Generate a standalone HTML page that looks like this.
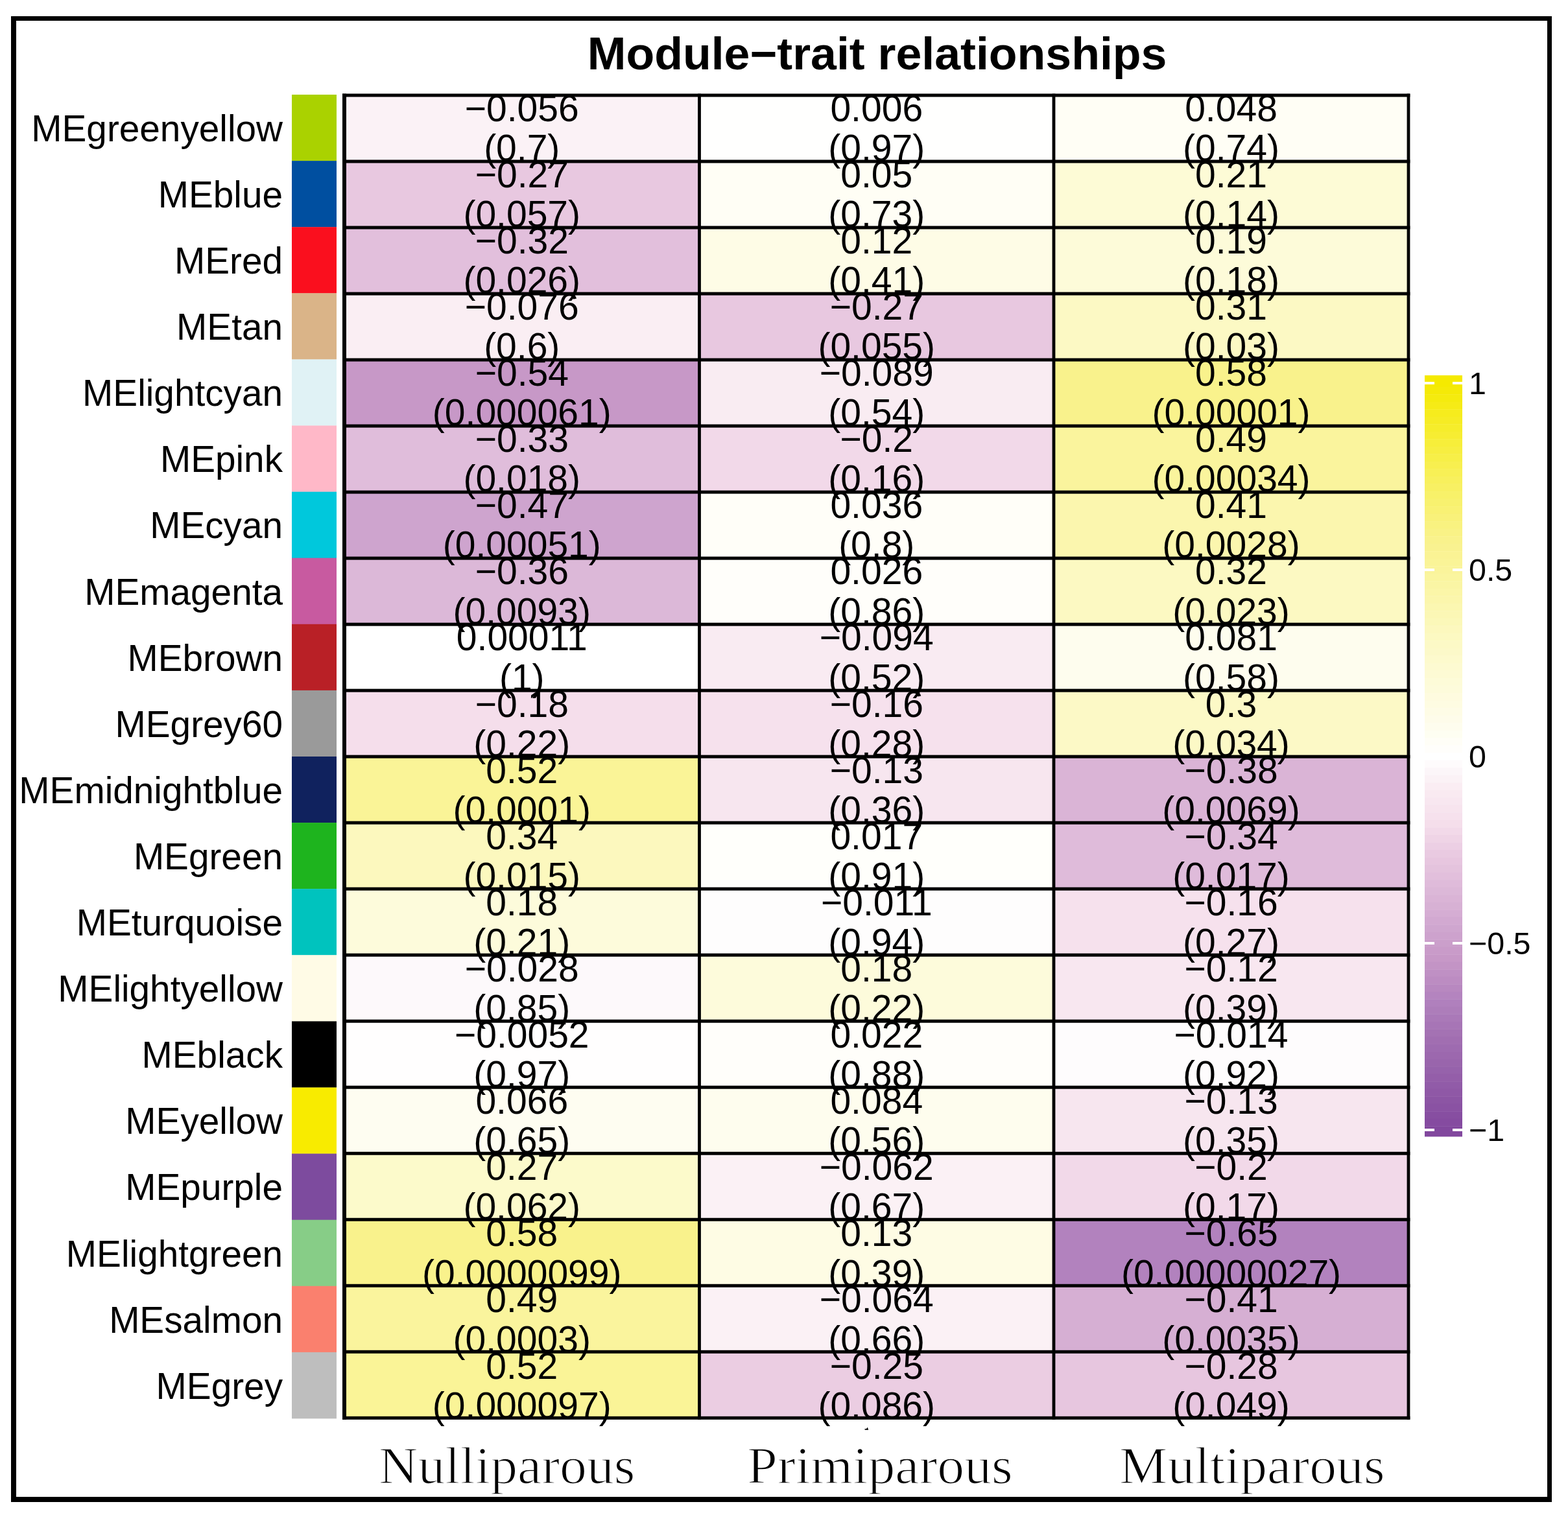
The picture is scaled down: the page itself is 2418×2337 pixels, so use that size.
<!DOCTYPE html><html><head><meta charset="utf-8"><title>Module-trait relationships</title>
<style>html,body{margin:0;padding:0;background:#fff;overflow:hidden;}svg{display:block;}.s{font-family:"Liberation Sans",Arial,Helvetica,sans-serif;}.r{font-family:"Liberation Serif","Times New Roman",serif;}</style></head><body>
<svg width="2418" height="2337" viewBox="0 0 2418 2337">
<rect x="0" y="0" width="2418" height="2337" fill="#fff"/>
<text class="s" font-size="69.5" font-weight="bold" text-anchor="middle" transform="translate(1352.60,107.40) scale(1.031,1)">Module−trait relationships</text>
<rect x="450" y="146.00" width="69" height="102.40" fill="#AAD200"/>
<rect x="531" y="146.00" width="547.5" height="102.40" fill="#FBF2F6"/>
<rect x="1078.5" y="146.00" width="546.5" height="102.40" fill="#FFFFFE"/>
<rect x="1625" y="146.00" width="547" height="102.40" fill="#FFFEF5"/>
<rect x="450" y="248.10" width="69" height="102.40" fill="#004FA0"/>
<rect x="531" y="248.10" width="547.5" height="102.40" fill="#E8C8E0"/>
<rect x="1078.5" y="248.10" width="546.5" height="102.40" fill="#FFFEF5"/>
<rect x="1625" y="248.10" width="547" height="102.40" fill="#FDFBD6"/>
<rect x="450" y="350.20" width="69" height="102.40" fill="#FA0F1E"/>
<rect x="531" y="350.20" width="547.5" height="102.40" fill="#E2BFDC"/>
<rect x="1078.5" y="350.20" width="546.5" height="102.40" fill="#FEFCE6"/>
<rect x="1625" y="350.20" width="547" height="102.40" fill="#FDFBD9"/>
<rect x="450" y="452.30" width="69" height="102.40" fill="#DAB488"/>
<rect x="531" y="452.30" width="547.5" height="102.40" fill="#FAEEF3"/>
<rect x="1078.5" y="452.30" width="546.5" height="102.40" fill="#E8C8E0"/>
<rect x="1625" y="452.30" width="547" height="102.40" fill="#FCF9C4"/>
<rect x="450" y="554.40" width="69" height="102.40" fill="#E0F2F5"/>
<rect x="531" y="554.40" width="547.5" height="102.40" fill="#C798C7"/>
<rect x="1078.5" y="554.40" width="546.5" height="102.40" fill="#F9ECF2"/>
<rect x="1625" y="554.40" width="547" height="102.40" fill="#F9F28C"/>
<rect x="450" y="656.50" width="69" height="102.40" fill="#FFB8C8"/>
<rect x="531" y="656.50" width="547.5" height="102.40" fill="#E0BDDB"/>
<rect x="1078.5" y="656.50" width="546.5" height="102.40" fill="#F2D9E9"/>
<rect x="1625" y="656.50" width="547" height="102.40" fill="#FAF49D"/>
<rect x="450" y="758.60" width="69" height="102.40" fill="#00C8DC"/>
<rect x="531" y="758.60" width="547.5" height="102.40" fill="#CEA4CE"/>
<rect x="1078.5" y="758.60" width="546.5" height="102.40" fill="#FFFEF8"/>
<rect x="1625" y="758.60" width="547" height="102.40" fill="#FBF6AE"/>
<rect x="450" y="860.70" width="69" height="102.40" fill="#C85AA0"/>
<rect x="531" y="860.70" width="547.5" height="102.40" fill="#DCB8D8"/>
<rect x="1078.5" y="860.70" width="546.5" height="102.40" fill="#FFFEFA"/>
<rect x="1625" y="860.70" width="547" height="102.40" fill="#FCF9C2"/>
<rect x="450" y="962.80" width="69" height="102.40" fill="#B92026"/>
<rect x="531" y="962.80" width="547.5" height="102.40" fill="#FFFFFF"/>
<rect x="1078.5" y="962.80" width="546.5" height="102.40" fill="#F9EBF2"/>
<rect x="1625" y="962.80" width="547" height="102.40" fill="#FEFDEE"/>
<rect x="450" y="1064.90" width="69" height="102.40" fill="#9A9A9A"/>
<rect x="531" y="1064.90" width="547.5" height="102.40" fill="#F5DEEB"/>
<rect x="1078.5" y="1064.90" width="546.5" height="102.40" fill="#F6E1ED"/>
<rect x="1625" y="1064.90" width="547" height="102.40" fill="#FCF9C6"/>
<rect x="450" y="1167.00" width="69" height="102.40" fill="#10225E"/>
<rect x="531" y="1167.00" width="547.5" height="102.40" fill="#FAF497"/>
<rect x="1078.5" y="1167.00" width="546.5" height="102.40" fill="#F7E6EF"/>
<rect x="1625" y="1167.00" width="547" height="102.40" fill="#DAB4D6"/>
<rect x="450" y="1269.10" width="69" height="102.40" fill="#1EB41E"/>
<rect x="531" y="1269.10" width="547.5" height="102.40" fill="#FCF8BE"/>
<rect x="1078.5" y="1269.10" width="546.5" height="102.40" fill="#FFFFFB"/>
<rect x="1625" y="1269.10" width="547" height="102.40" fill="#DFBBDA"/>
<rect x="450" y="1371.20" width="69" height="102.40" fill="#00C3BE"/>
<rect x="531" y="1371.20" width="547.5" height="102.40" fill="#FDFBDB"/>
<rect x="1078.5" y="1371.20" width="546.5" height="102.40" fill="#FEFDFD"/>
<rect x="1625" y="1371.20" width="547" height="102.40" fill="#F6E1ED"/>
<rect x="450" y="1473.30" width="69" height="102.40" fill="#FFFBE6"/>
<rect x="531" y="1473.30" width="547.5" height="102.40" fill="#FDF9FB"/>
<rect x="1078.5" y="1473.30" width="546.5" height="102.40" fill="#FDFBDB"/>
<rect x="1625" y="1473.30" width="547" height="102.40" fill="#F8E7F0"/>
<rect x="450" y="1575.40" width="69" height="102.40" fill="#000000"/>
<rect x="531" y="1575.40" width="547.5" height="102.40" fill="#FFFEFE"/>
<rect x="1078.5" y="1575.40" width="546.5" height="102.40" fill="#FFFEFA"/>
<rect x="1625" y="1575.40" width="547" height="102.40" fill="#FEFCFD"/>
<rect x="450" y="1677.50" width="69" height="102.40" fill="#F8EB00"/>
<rect x="531" y="1677.50" width="547.5" height="102.40" fill="#FEFDF1"/>
<rect x="1078.5" y="1677.50" width="546.5" height="102.40" fill="#FEFDEE"/>
<rect x="1625" y="1677.50" width="547" height="102.40" fill="#F7E6EF"/>
<rect x="450" y="1779.60" width="69" height="102.40" fill="#7D4B9E"/>
<rect x="531" y="1779.60" width="547.5" height="102.40" fill="#FCFACB"/>
<rect x="1078.5" y="1779.60" width="546.5" height="102.40" fill="#FBF1F5"/>
<rect x="1625" y="1779.60" width="547" height="102.40" fill="#F2D9E9"/>
<rect x="450" y="1881.70" width="69" height="102.40" fill="#87CD87"/>
<rect x="531" y="1881.70" width="547.5" height="102.40" fill="#F9F28C"/>
<rect x="1078.5" y="1881.70" width="546.5" height="102.40" fill="#FEFCE4"/>
<rect x="1625" y="1881.70" width="547" height="102.40" fill="#B282BE"/>
<rect x="450" y="1983.80" width="69" height="102.40" fill="#FA806E"/>
<rect x="531" y="1983.80" width="547.5" height="102.40" fill="#FAF49D"/>
<rect x="1078.5" y="1983.80" width="546.5" height="102.40" fill="#FBF1F5"/>
<rect x="1625" y="1983.80" width="547" height="102.40" fill="#D6AFD3"/>
<rect x="450" y="2085.90" width="69" height="102.40" fill="#BEBEBE"/>
<rect x="531" y="2085.90" width="547.5" height="102.40" fill="#FAF497"/>
<rect x="1078.5" y="2085.90" width="546.5" height="102.40" fill="#EBCDE2"/>
<rect x="1625" y="2085.90" width="547" height="102.40" fill="#E7C6DF"/>
<rect x="528.0" y="144.50" width="1646.4" height="5.0" fill="#000"/>
<rect x="528.0" y="246.52" width="1646.4" height="5.0" fill="#000"/>
<rect x="528.0" y="348.53" width="1646.4" height="5.0" fill="#000"/>
<rect x="528.0" y="450.55" width="1646.4" height="5.0" fill="#000"/>
<rect x="528.0" y="552.56" width="1646.4" height="5.0" fill="#000"/>
<rect x="528.0" y="654.58" width="1646.4" height="5.0" fill="#000"/>
<rect x="528.0" y="756.59" width="1646.4" height="5.0" fill="#000"/>
<rect x="528.0" y="858.61" width="1646.4" height="5.0" fill="#000"/>
<rect x="528.0" y="960.62" width="1646.4" height="5.0" fill="#000"/>
<rect x="528.0" y="1062.63" width="1646.4" height="5.0" fill="#000"/>
<rect x="528.0" y="1164.65" width="1646.4" height="5.0" fill="#000"/>
<rect x="528.0" y="1266.67" width="1646.4" height="5.0" fill="#000"/>
<rect x="528.0" y="1368.68" width="1646.4" height="5.0" fill="#000"/>
<rect x="528.0" y="1470.70" width="1646.4" height="5.0" fill="#000"/>
<rect x="528.0" y="1572.71" width="1646.4" height="5.0" fill="#000"/>
<rect x="528.0" y="1674.73" width="1646.4" height="5.0" fill="#000"/>
<rect x="528.0" y="1776.74" width="1646.4" height="5.0" fill="#000"/>
<rect x="528.0" y="1878.76" width="1646.4" height="5.0" fill="#000"/>
<rect x="528.0" y="1980.77" width="1646.4" height="5.0" fill="#000"/>
<rect x="528.0" y="2082.79" width="1646.4" height="5.0" fill="#000"/>
<rect x="528.0" y="2184.80" width="1646.4" height="5.0" fill="#000"/>
<rect x="528.0" y="144.6" width="6" height="2045.1000000000001" fill="#000"/>
<rect x="1076.1" y="144.6" width="4.8" height="2045.1000000000001" fill="#000"/>
<rect x="1622.6" y="144.6" width="4.8" height="2045.1000000000001" fill="#000"/>
<rect x="2169.6" y="144.6" width="4.8" height="2045.1000000000001" fill="#000"/>
<text class="s" font-size="58.3" text-anchor="end" transform="translate(436.00,217.85) scale(0.973,1)">MEgreenyellow</text>
<text class="s" font-size="58.3" text-anchor="middle" transform="translate(804.75,186.65) scale(0.978,1)">−0.056</text>
<text class="s" font-size="58.3" text-anchor="middle" transform="translate(804.75,247.85) scale(0.978,1)">(0.7)</text>
<text class="s" font-size="58.3" text-anchor="middle" transform="translate(1351.75,186.65) scale(0.978,1)">0.006</text>
<text class="s" font-size="58.3" text-anchor="middle" transform="translate(1351.75,247.85) scale(0.978,1)">(0.97)</text>
<text class="s" font-size="58.3" text-anchor="middle" transform="translate(1898.50,186.65) scale(0.978,1)">0.048</text>
<text class="s" font-size="58.3" text-anchor="middle" transform="translate(1898.50,247.85) scale(0.978,1)">(0.74)</text>
<text class="s" font-size="58.3" text-anchor="end" transform="translate(436.00,319.95) scale(0.973,1)">MEblue</text>
<text class="s" font-size="58.3" text-anchor="middle" transform="translate(804.75,288.75) scale(0.978,1)">−0.27</text>
<text class="s" font-size="58.3" text-anchor="middle" transform="translate(804.75,349.95) scale(0.978,1)">(0.057)</text>
<text class="s" font-size="58.3" text-anchor="middle" transform="translate(1351.75,288.75) scale(0.978,1)">0.05</text>
<text class="s" font-size="58.3" text-anchor="middle" transform="translate(1351.75,349.95) scale(0.978,1)">(0.73)</text>
<text class="s" font-size="58.3" text-anchor="middle" transform="translate(1898.50,288.75) scale(0.978,1)">0.21</text>
<text class="s" font-size="58.3" text-anchor="middle" transform="translate(1898.50,349.95) scale(0.978,1)">(0.14)</text>
<text class="s" font-size="58.3" text-anchor="end" transform="translate(436.00,422.05) scale(0.973,1)">MEred</text>
<text class="s" font-size="58.3" text-anchor="middle" transform="translate(804.75,390.85) scale(0.978,1)">−0.32</text>
<text class="s" font-size="58.3" text-anchor="middle" transform="translate(804.75,452.05) scale(0.978,1)">(0.026)</text>
<text class="s" font-size="58.3" text-anchor="middle" transform="translate(1351.75,390.85) scale(0.978,1)">0.12</text>
<text class="s" font-size="58.3" text-anchor="middle" transform="translate(1351.75,452.05) scale(0.978,1)">(0.41)</text>
<text class="s" font-size="58.3" text-anchor="middle" transform="translate(1898.50,390.85) scale(0.978,1)">0.19</text>
<text class="s" font-size="58.3" text-anchor="middle" transform="translate(1898.50,452.05) scale(0.978,1)">(0.18)</text>
<text class="s" font-size="58.3" text-anchor="end" transform="translate(436.00,524.15) scale(0.973,1)">MEtan</text>
<text class="s" font-size="58.3" text-anchor="middle" transform="translate(804.75,492.95) scale(0.978,1)">−0.076</text>
<text class="s" font-size="58.3" text-anchor="middle" transform="translate(804.75,554.15) scale(0.978,1)">(0.6)</text>
<text class="s" font-size="58.3" text-anchor="middle" transform="translate(1351.75,492.95) scale(0.978,1)">−0.27</text>
<text class="s" font-size="58.3" text-anchor="middle" transform="translate(1351.75,554.15) scale(0.978,1)">(0.055)</text>
<text class="s" font-size="58.3" text-anchor="middle" transform="translate(1898.50,492.95) scale(0.978,1)">0.31</text>
<text class="s" font-size="58.3" text-anchor="middle" transform="translate(1898.50,554.15) scale(0.978,1)">(0.03)</text>
<text class="s" font-size="58.3" text-anchor="end" transform="translate(436.00,626.25) scale(0.973,1)">MElightcyan</text>
<text class="s" font-size="58.3" text-anchor="middle" transform="translate(804.75,595.05) scale(0.978,1)">−0.54</text>
<text class="s" font-size="58.3" text-anchor="middle" transform="translate(804.75,656.25) scale(0.978,1)">(0.000061)</text>
<text class="s" font-size="58.3" text-anchor="middle" transform="translate(1351.75,595.05) scale(0.978,1)">−0.089</text>
<text class="s" font-size="58.3" text-anchor="middle" transform="translate(1351.75,656.25) scale(0.978,1)">(0.54)</text>
<text class="s" font-size="58.3" text-anchor="middle" transform="translate(1898.50,595.05) scale(0.978,1)">0.58</text>
<text class="s" font-size="58.3" text-anchor="middle" transform="translate(1898.50,656.25) scale(0.978,1)">(0.00001)</text>
<text class="s" font-size="58.3" text-anchor="end" transform="translate(436.00,728.35) scale(0.973,1)">MEpink</text>
<text class="s" font-size="58.3" text-anchor="middle" transform="translate(804.75,697.15) scale(0.978,1)">−0.33</text>
<text class="s" font-size="58.3" text-anchor="middle" transform="translate(804.75,758.35) scale(0.978,1)">(0.018)</text>
<text class="s" font-size="58.3" text-anchor="middle" transform="translate(1351.75,697.15) scale(0.978,1)">−0.2</text>
<text class="s" font-size="58.3" text-anchor="middle" transform="translate(1351.75,758.35) scale(0.978,1)">(0.16)</text>
<text class="s" font-size="58.3" text-anchor="middle" transform="translate(1898.50,697.15) scale(0.978,1)">0.49</text>
<text class="s" font-size="58.3" text-anchor="middle" transform="translate(1898.50,758.35) scale(0.978,1)">(0.00034)</text>
<text class="s" font-size="58.3" text-anchor="end" transform="translate(436.00,830.45) scale(0.973,1)">MEcyan</text>
<text class="s" font-size="58.3" text-anchor="middle" transform="translate(804.75,799.25) scale(0.978,1)">−0.47</text>
<text class="s" font-size="58.3" text-anchor="middle" transform="translate(804.75,860.45) scale(0.978,1)">(0.00051)</text>
<text class="s" font-size="58.3" text-anchor="middle" transform="translate(1351.75,799.25) scale(0.978,1)">0.036</text>
<text class="s" font-size="58.3" text-anchor="middle" transform="translate(1351.75,860.45) scale(0.978,1)">(0.8)</text>
<text class="s" font-size="58.3" text-anchor="middle" transform="translate(1898.50,799.25) scale(0.978,1)">0.41</text>
<text class="s" font-size="58.3" text-anchor="middle" transform="translate(1898.50,860.45) scale(0.978,1)">(0.0028)</text>
<text class="s" font-size="58.3" text-anchor="end" transform="translate(436.00,932.55) scale(0.973,1)">MEmagenta</text>
<text class="s" font-size="58.3" text-anchor="middle" transform="translate(804.75,901.35) scale(0.978,1)">−0.36</text>
<text class="s" font-size="58.3" text-anchor="middle" transform="translate(804.75,962.55) scale(0.978,1)">(0.0093)</text>
<text class="s" font-size="58.3" text-anchor="middle" transform="translate(1351.75,901.35) scale(0.978,1)">0.026</text>
<text class="s" font-size="58.3" text-anchor="middle" transform="translate(1351.75,962.55) scale(0.978,1)">(0.86)</text>
<text class="s" font-size="58.3" text-anchor="middle" transform="translate(1898.50,901.35) scale(0.978,1)">0.32</text>
<text class="s" font-size="58.3" text-anchor="middle" transform="translate(1898.50,962.55) scale(0.978,1)">(0.023)</text>
<text class="s" font-size="58.3" text-anchor="end" transform="translate(436.00,1034.65) scale(0.973,1)">MEbrown</text>
<text class="s" font-size="58.3" text-anchor="middle" transform="translate(804.75,1003.45) scale(0.978,1)">0.00011</text>
<text class="s" font-size="58.3" text-anchor="middle" transform="translate(804.75,1064.65) scale(0.978,1)">(1)</text>
<text class="s" font-size="58.3" text-anchor="middle" transform="translate(1351.75,1003.45) scale(0.978,1)">−0.094</text>
<text class="s" font-size="58.3" text-anchor="middle" transform="translate(1351.75,1064.65) scale(0.978,1)">(0.52)</text>
<text class="s" font-size="58.3" text-anchor="middle" transform="translate(1898.50,1003.45) scale(0.978,1)">0.081</text>
<text class="s" font-size="58.3" text-anchor="middle" transform="translate(1898.50,1064.65) scale(0.978,1)">(0.58)</text>
<text class="s" font-size="58.3" text-anchor="end" transform="translate(436.00,1136.75) scale(0.973,1)">MEgrey60</text>
<text class="s" font-size="58.3" text-anchor="middle" transform="translate(804.75,1105.55) scale(0.978,1)">−0.18</text>
<text class="s" font-size="58.3" text-anchor="middle" transform="translate(804.75,1166.75) scale(0.978,1)">(0.22)</text>
<text class="s" font-size="58.3" text-anchor="middle" transform="translate(1351.75,1105.55) scale(0.978,1)">−0.16</text>
<text class="s" font-size="58.3" text-anchor="middle" transform="translate(1351.75,1166.75) scale(0.978,1)">(0.28)</text>
<text class="s" font-size="58.3" text-anchor="middle" transform="translate(1898.50,1105.55) scale(0.978,1)">0.3</text>
<text class="s" font-size="58.3" text-anchor="middle" transform="translate(1898.50,1166.75) scale(0.978,1)">(0.034)</text>
<text class="s" font-size="58.3" text-anchor="end" transform="translate(436.00,1238.85) scale(0.973,1)">MEmidnightblue</text>
<text class="s" font-size="58.3" text-anchor="middle" transform="translate(804.75,1207.65) scale(0.978,1)">0.52</text>
<text class="s" font-size="58.3" text-anchor="middle" transform="translate(804.75,1268.85) scale(0.978,1)">(0.0001)</text>
<text class="s" font-size="58.3" text-anchor="middle" transform="translate(1351.75,1207.65) scale(0.978,1)">−0.13</text>
<text class="s" font-size="58.3" text-anchor="middle" transform="translate(1351.75,1268.85) scale(0.978,1)">(0.36)</text>
<text class="s" font-size="58.3" text-anchor="middle" transform="translate(1898.50,1207.65) scale(0.978,1)">−0.38</text>
<text class="s" font-size="58.3" text-anchor="middle" transform="translate(1898.50,1268.85) scale(0.978,1)">(0.0069)</text>
<text class="s" font-size="58.3" text-anchor="end" transform="translate(436.00,1340.95) scale(0.973,1)">MEgreen</text>
<text class="s" font-size="58.3" text-anchor="middle" transform="translate(804.75,1309.75) scale(0.978,1)">0.34</text>
<text class="s" font-size="58.3" text-anchor="middle" transform="translate(804.75,1370.95) scale(0.978,1)">(0.015)</text>
<text class="s" font-size="58.3" text-anchor="middle" transform="translate(1351.75,1309.75) scale(0.978,1)">0.017</text>
<text class="s" font-size="58.3" text-anchor="middle" transform="translate(1351.75,1370.95) scale(0.978,1)">(0.91)</text>
<text class="s" font-size="58.3" text-anchor="middle" transform="translate(1898.50,1309.75) scale(0.978,1)">−0.34</text>
<text class="s" font-size="58.3" text-anchor="middle" transform="translate(1898.50,1370.95) scale(0.978,1)">(0.017)</text>
<text class="s" font-size="58.3" text-anchor="end" transform="translate(436.00,1443.05) scale(0.973,1)">MEturquoise</text>
<text class="s" font-size="58.3" text-anchor="middle" transform="translate(804.75,1411.85) scale(0.978,1)">0.18</text>
<text class="s" font-size="58.3" text-anchor="middle" transform="translate(804.75,1473.05) scale(0.978,1)">(0.21)</text>
<text class="s" font-size="58.3" text-anchor="middle" transform="translate(1351.75,1411.85) scale(0.978,1)">−0.011</text>
<text class="s" font-size="58.3" text-anchor="middle" transform="translate(1351.75,1473.05) scale(0.978,1)">(0.94)</text>
<text class="s" font-size="58.3" text-anchor="middle" transform="translate(1898.50,1411.85) scale(0.978,1)">−0.16</text>
<text class="s" font-size="58.3" text-anchor="middle" transform="translate(1898.50,1473.05) scale(0.978,1)">(0.27)</text>
<text class="s" font-size="58.3" text-anchor="end" transform="translate(436.00,1545.15) scale(0.973,1)">MElightyellow</text>
<text class="s" font-size="58.3" text-anchor="middle" transform="translate(804.75,1513.95) scale(0.978,1)">−0.028</text>
<text class="s" font-size="58.3" text-anchor="middle" transform="translate(804.75,1575.15) scale(0.978,1)">(0.85)</text>
<text class="s" font-size="58.3" text-anchor="middle" transform="translate(1351.75,1513.95) scale(0.978,1)">0.18</text>
<text class="s" font-size="58.3" text-anchor="middle" transform="translate(1351.75,1575.15) scale(0.978,1)">(0.22)</text>
<text class="s" font-size="58.3" text-anchor="middle" transform="translate(1898.50,1513.95) scale(0.978,1)">−0.12</text>
<text class="s" font-size="58.3" text-anchor="middle" transform="translate(1898.50,1575.15) scale(0.978,1)">(0.39)</text>
<text class="s" font-size="58.3" text-anchor="end" transform="translate(436.00,1647.25) scale(0.973,1)">MEblack</text>
<text class="s" font-size="58.3" text-anchor="middle" transform="translate(804.75,1616.05) scale(0.978,1)">−0.0052</text>
<text class="s" font-size="58.3" text-anchor="middle" transform="translate(804.75,1677.25) scale(0.978,1)">(0.97)</text>
<text class="s" font-size="58.3" text-anchor="middle" transform="translate(1351.75,1616.05) scale(0.978,1)">0.022</text>
<text class="s" font-size="58.3" text-anchor="middle" transform="translate(1351.75,1677.25) scale(0.978,1)">(0.88)</text>
<text class="s" font-size="58.3" text-anchor="middle" transform="translate(1898.50,1616.05) scale(0.978,1)">−0.014</text>
<text class="s" font-size="58.3" text-anchor="middle" transform="translate(1898.50,1677.25) scale(0.978,1)">(0.92)</text>
<text class="s" font-size="58.3" text-anchor="end" transform="translate(436.00,1749.35) scale(0.973,1)">MEyellow</text>
<text class="s" font-size="58.3" text-anchor="middle" transform="translate(804.75,1718.15) scale(0.978,1)">0.066</text>
<text class="s" font-size="58.3" text-anchor="middle" transform="translate(804.75,1779.35) scale(0.978,1)">(0.65)</text>
<text class="s" font-size="58.3" text-anchor="middle" transform="translate(1351.75,1718.15) scale(0.978,1)">0.084</text>
<text class="s" font-size="58.3" text-anchor="middle" transform="translate(1351.75,1779.35) scale(0.978,1)">(0.56)</text>
<text class="s" font-size="58.3" text-anchor="middle" transform="translate(1898.50,1718.15) scale(0.978,1)">−0.13</text>
<text class="s" font-size="58.3" text-anchor="middle" transform="translate(1898.50,1779.35) scale(0.978,1)">(0.35)</text>
<text class="s" font-size="58.3" text-anchor="end" transform="translate(436.00,1851.45) scale(0.973,1)">MEpurple</text>
<text class="s" font-size="58.3" text-anchor="middle" transform="translate(804.75,1820.25) scale(0.978,1)">0.27</text>
<text class="s" font-size="58.3" text-anchor="middle" transform="translate(804.75,1881.45) scale(0.978,1)">(0.062)</text>
<text class="s" font-size="58.3" text-anchor="middle" transform="translate(1351.75,1820.25) scale(0.978,1)">−0.062</text>
<text class="s" font-size="58.3" text-anchor="middle" transform="translate(1351.75,1881.45) scale(0.978,1)">(0.67)</text>
<text class="s" font-size="58.3" text-anchor="middle" transform="translate(1898.50,1820.25) scale(0.978,1)">−0.2</text>
<text class="s" font-size="58.3" text-anchor="middle" transform="translate(1898.50,1881.45) scale(0.978,1)">(0.17)</text>
<text class="s" font-size="58.3" text-anchor="end" transform="translate(436.00,1953.55) scale(0.973,1)">MElightgreen</text>
<text class="s" font-size="58.3" text-anchor="middle" transform="translate(804.75,1922.35) scale(0.978,1)">0.58</text>
<text class="s" font-size="58.3" text-anchor="middle" transform="translate(804.75,1983.55) scale(0.978,1)">(0.0000099)</text>
<text class="s" font-size="58.3" text-anchor="middle" transform="translate(1351.75,1922.35) scale(0.978,1)">0.13</text>
<text class="s" font-size="58.3" text-anchor="middle" transform="translate(1351.75,1983.55) scale(0.978,1)">(0.39)</text>
<text class="s" font-size="58.3" text-anchor="middle" transform="translate(1898.50,1922.35) scale(0.978,1)">−0.65</text>
<text class="s" font-size="58.3" text-anchor="middle" transform="translate(1898.50,1983.55) scale(0.978,1)">(0.00000027)</text>
<text class="s" font-size="58.3" text-anchor="end" transform="translate(436.00,2055.65) scale(0.973,1)">MEsalmon</text>
<text class="s" font-size="58.3" text-anchor="middle" transform="translate(804.75,2024.45) scale(0.978,1)">0.49</text>
<text class="s" font-size="58.3" text-anchor="middle" transform="translate(804.75,2085.65) scale(0.978,1)">(0.0003)</text>
<text class="s" font-size="58.3" text-anchor="middle" transform="translate(1351.75,2024.45) scale(0.978,1)">−0.064</text>
<text class="s" font-size="58.3" text-anchor="middle" transform="translate(1351.75,2085.65) scale(0.978,1)">(0.66)</text>
<text class="s" font-size="58.3" text-anchor="middle" transform="translate(1898.50,2024.45) scale(0.978,1)">−0.41</text>
<text class="s" font-size="58.3" text-anchor="middle" transform="translate(1898.50,2085.65) scale(0.978,1)">(0.0035)</text>
<text class="s" font-size="58.3" text-anchor="end" transform="translate(436.00,2157.75) scale(0.973,1)">MEgrey</text>
<text class="s" font-size="58.3" text-anchor="middle" transform="translate(804.75,2126.55) scale(0.978,1)">0.52</text>
<text class="s" font-size="58.3" text-anchor="middle" transform="translate(804.75,2187.75) scale(0.978,1)">(0.000097)</text>
<text class="s" font-size="58.3" text-anchor="middle" transform="translate(1351.75,2126.55) scale(0.978,1)">−0.25</text>
<text class="s" font-size="58.3" text-anchor="middle" transform="translate(1351.75,2187.75) scale(0.978,1)">(0.086)</text>
<text class="s" font-size="58.3" text-anchor="middle" transform="translate(1898.50,2126.55) scale(0.978,1)">−0.28</text>
<text class="s" font-size="58.3" text-anchor="middle" transform="translate(1898.50,2187.75) scale(0.978,1)">(0.049)</text>
<text class="r" font-size="80" text-anchor="middle" stroke="#fff" stroke-width="1.6" transform="translate(781.70,2288.00) scale(1.047,1)">Nulliparous</text>
<text class="r" font-size="80" text-anchor="middle" stroke="#fff" stroke-width="1.6" transform="translate(1357.00,2288.00) scale(1.047,1)">Primiparous</text>
<text class="r" font-size="80" text-anchor="middle" stroke="#fff" stroke-width="1.6" transform="translate(1930.80,2288.00) scale(1.047,1)">Multiparous</text>
<rect x="2197" y="579.00" width="58" height="18.16" fill="#F5EA00"/>
<rect x="2197" y="596.76" width="58" height="11.92" fill="#F5EA07"/>
<rect x="2197" y="608.28" width="58" height="11.92" fill="#F5EB0E"/>
<rect x="2197" y="619.80" width="58" height="11.92" fill="#F6EB16"/>
<rect x="2197" y="631.32" width="58" height="11.92" fill="#F6EC1D"/>
<rect x="2197" y="642.84" width="58" height="11.92" fill="#F6EC24"/>
<rect x="2197" y="654.36" width="58" height="11.92" fill="#F6ED2B"/>
<rect x="2197" y="665.88" width="58" height="11.92" fill="#F7ED32"/>
<rect x="2197" y="677.40" width="58" height="11.92" fill="#F7EE3A"/>
<rect x="2197" y="688.92" width="58" height="11.92" fill="#F7EE41"/>
<rect x="2197" y="700.44" width="58" height="11.92" fill="#F7EF48"/>
<rect x="2197" y="711.96" width="58" height="11.92" fill="#F8EF4F"/>
<rect x="2197" y="723.48" width="58" height="11.92" fill="#F8F056"/>
<rect x="2197" y="735.00" width="58" height="11.92" fill="#F8F05D"/>
<rect x="2197" y="746.52" width="58" height="11.92" fill="#F8F063"/>
<rect x="2197" y="758.04" width="58" height="11.92" fill="#F8F169"/>
<rect x="2197" y="769.56" width="58" height="11.92" fill="#F8F16F"/>
<rect x="2197" y="781.08" width="58" height="11.92" fill="#F9F174"/>
<rect x="2197" y="792.60" width="58" height="11.92" fill="#F9F17A"/>
<rect x="2197" y="804.12" width="58" height="11.92" fill="#F9F280"/>
<rect x="2197" y="815.64" width="58" height="11.92" fill="#F9F286"/>
<rect x="2197" y="827.16" width="58" height="11.92" fill="#F9F28C"/>
<rect x="2197" y="838.68" width="58" height="11.92" fill="#F9F290"/>
<rect x="2197" y="850.20" width="58" height="11.92" fill="#FAF394"/>
<rect x="2197" y="861.72" width="58" height="11.92" fill="#FAF497"/>
<rect x="2197" y="873.24" width="58" height="11.92" fill="#FAF49B"/>
<rect x="2197" y="884.76" width="58" height="11.92" fill="#FAF59F"/>
<rect x="2197" y="896.28" width="58" height="11.92" fill="#FAF5A4"/>
<rect x="2197" y="907.80" width="58" height="11.92" fill="#FBF6A8"/>
<rect x="2197" y="919.32" width="58" height="11.92" fill="#FBF6AC"/>
<rect x="2197" y="930.84" width="58" height="11.92" fill="#FBF7B1"/>
<rect x="2197" y="942.36" width="58" height="11.92" fill="#FBF7B5"/>
<rect x="2197" y="953.88" width="58" height="11.92" fill="#FBF8B9"/>
<rect x="2197" y="965.40" width="58" height="11.92" fill="#FCF8BE"/>
<rect x="2197" y="976.92" width="58" height="11.92" fill="#FCF9C2"/>
<rect x="2197" y="988.44" width="58" height="11.92" fill="#FCF9C6"/>
<rect x="2197" y="999.96" width="58" height="11.92" fill="#FCF9C9"/>
<rect x="2197" y="1011.48" width="58" height="11.92" fill="#FDFACD"/>
<rect x="2197" y="1023.00" width="58" height="11.92" fill="#FDFAD1"/>
<rect x="2197" y="1034.52" width="58" height="11.92" fill="#FDFAD4"/>
<rect x="2197" y="1046.04" width="58" height="11.92" fill="#FDFBD8"/>
<rect x="2197" y="1057.56" width="58" height="11.92" fill="#FDFBDB"/>
<rect x="2197" y="1069.08" width="58" height="11.92" fill="#FEFBDF"/>
<rect x="2197" y="1080.60" width="58" height="11.92" fill="#FEFCE2"/>
<rect x="2197" y="1092.12" width="58" height="11.92" fill="#FEFCE6"/>
<rect x="2197" y="1103.64" width="58" height="11.92" fill="#FEFCEA"/>
<rect x="2197" y="1115.16" width="58" height="11.92" fill="#FEFDEE"/>
<rect x="2197" y="1126.68" width="58" height="11.92" fill="#FEFEF2"/>
<rect x="2197" y="1138.20" width="58" height="11.92" fill="#FFFEF7"/>
<rect x="2197" y="1149.72" width="58" height="11.92" fill="#FFFEFB"/>
<rect x="2197" y="1161.24" width="58" height="11.92" fill="#FFFFFF"/>
<rect x="2197" y="1172.76" width="58" height="11.92" fill="#FEFBFC"/>
<rect x="2197" y="1184.28" width="58" height="11.92" fill="#FCF6F9"/>
<rect x="2197" y="1195.80" width="58" height="11.92" fill="#FBF2F6"/>
<rect x="2197" y="1207.32" width="58" height="11.92" fill="#FAEDF3"/>
<rect x="2197" y="1218.84" width="58" height="11.92" fill="#F9EAF1"/>
<rect x="2197" y="1230.36" width="58" height="11.92" fill="#F8E7F0"/>
<rect x="2197" y="1241.88" width="58" height="11.92" fill="#F7E4EE"/>
<rect x="2197" y="1253.40" width="58" height="11.92" fill="#F6E1ED"/>
<rect x="2197" y="1264.92" width="58" height="11.92" fill="#F5DEEB"/>
<rect x="2197" y="1276.44" width="58" height="11.92" fill="#F2D9E9"/>
<rect x="2197" y="1287.96" width="58" height="11.92" fill="#EFD4E6"/>
<rect x="2197" y="1299.48" width="58" height="11.92" fill="#ECCFE4"/>
<rect x="2197" y="1311.00" width="58" height="11.92" fill="#E9CAE1"/>
<rect x="2197" y="1322.52" width="58" height="11.92" fill="#E7C6DF"/>
<rect x="2197" y="1334.04" width="58" height="11.92" fill="#E4C3DD"/>
<rect x="2197" y="1345.56" width="58" height="11.92" fill="#E2BFDC"/>
<rect x="2197" y="1357.08" width="58" height="11.92" fill="#DFBBDA"/>
<rect x="2197" y="1368.60" width="58" height="11.92" fill="#DCB8D8"/>
<rect x="2197" y="1380.12" width="58" height="11.92" fill="#DAB4D6"/>
<rect x="2197" y="1391.64" width="58" height="11.92" fill="#D7B1D4"/>
<rect x="2197" y="1403.16" width="58" height="11.92" fill="#D5ADD3"/>
<rect x="2197" y="1414.68" width="58" height="11.92" fill="#D2A9D1"/>
<rect x="2197" y="1426.20" width="58" height="11.92" fill="#CFA6CF"/>
<rect x="2197" y="1437.72" width="58" height="11.92" fill="#CDA2CD"/>
<rect x="2197" y="1449.24" width="58" height="11.92" fill="#CB9FCB"/>
<rect x="2197" y="1460.76" width="58" height="11.92" fill="#C99BC9"/>
<rect x="2197" y="1472.28" width="58" height="11.92" fill="#C798C7"/>
<rect x="2197" y="1483.80" width="58" height="11.92" fill="#C394C5"/>
<rect x="2197" y="1495.32" width="58" height="11.92" fill="#BF90C4"/>
<rect x="2197" y="1506.84" width="58" height="11.92" fill="#BC8CC2"/>
<rect x="2197" y="1518.36" width="58" height="11.92" fill="#B888C0"/>
<rect x="2197" y="1529.88" width="58" height="11.92" fill="#B484BF"/>
<rect x="2197" y="1541.40" width="58" height="11.92" fill="#B080BD"/>
<rect x="2197" y="1552.92" width="58" height="11.92" fill="#AD7DBA"/>
<rect x="2197" y="1564.44" width="58" height="11.92" fill="#AA79B8"/>
<rect x="2197" y="1575.96" width="58" height="11.92" fill="#A775B6"/>
<rect x="2197" y="1587.48" width="58" height="11.92" fill="#A472B3"/>
<rect x="2197" y="1599.00" width="58" height="11.92" fill="#A16EB1"/>
<rect x="2197" y="1610.52" width="58" height="11.92" fill="#9E6BB0"/>
<rect x="2197" y="1622.04" width="58" height="11.92" fill="#9C68AE"/>
<rect x="2197" y="1633.56" width="58" height="11.92" fill="#9965AC"/>
<rect x="2197" y="1645.08" width="58" height="11.92" fill="#9662AB"/>
<rect x="2197" y="1656.60" width="58" height="11.92" fill="#945EA9"/>
<rect x="2197" y="1668.12" width="58" height="11.92" fill="#915BA8"/>
<rect x="2197" y="1679.64" width="58" height="11.92" fill="#8F58A6"/>
<rect x="2197" y="1691.16" width="58" height="11.92" fill="#8C55A4"/>
<rect x="2197" y="1702.68" width="58" height="11.92" fill="#8A52A3"/>
<rect x="2197" y="1714.20" width="58" height="11.92" fill="#874EA1"/>
<rect x="2197" y="1725.72" width="58" height="11.92" fill="#854BA0"/>
<rect x="2197" y="1737.24" width="58" height="16.16" fill="#82489E"/>
<rect x="2197" y="589.00" width="15" height="4" fill="#fff"/>
<rect x="2240" y="589.00" width="15" height="4" fill="#fff"/>
<text class="s" font-size="48.4" x="2265.00" y="607.80">1</text>
<rect x="2197" y="877.00" width="15" height="4" fill="#fff"/>
<rect x="2240" y="877.00" width="15" height="4" fill="#fff"/>
<text class="s" font-size="48.4" x="2265.00" y="895.80">0.5</text>
<rect x="2197" y="1165.00" width="15" height="4" fill="#fff"/>
<rect x="2240" y="1165.00" width="15" height="4" fill="#fff"/>
<text class="s" font-size="48.4" x="2265.00" y="1183.80">0</text>
<rect x="2197" y="1453.00" width="15" height="4" fill="#fff"/>
<rect x="2240" y="1453.00" width="15" height="4" fill="#fff"/>
<text class="s" font-size="48.4" x="2265.00" y="1471.80">−0.5</text>
<rect x="2197" y="1741.00" width="15" height="4" fill="#fff"/>
<rect x="2240" y="1741.00" width="15" height="4" fill="#fff"/>
<text class="s" font-size="48.4" x="2265.00" y="1759.80">−1</text>
<path d="M1333 2204.6 L1336.5 2203.8 L1337.3 2202 L1338.2 2202.2 L1338.4 2204 L1339 2204.3 L1339 2205.7 L1334 2205.7 Z" fill="#000"/>
<rect x="17" y="25" width="8" height="2292" fill="#000"/>
<rect x="2386" y="25" width="7" height="2292" fill="#000"/>
<rect x="17" y="25" width="2376" height="7" fill="#000"/>
<rect x="17" y="2309" width="2376" height="8" fill="#000"/>
</svg></body></html>
